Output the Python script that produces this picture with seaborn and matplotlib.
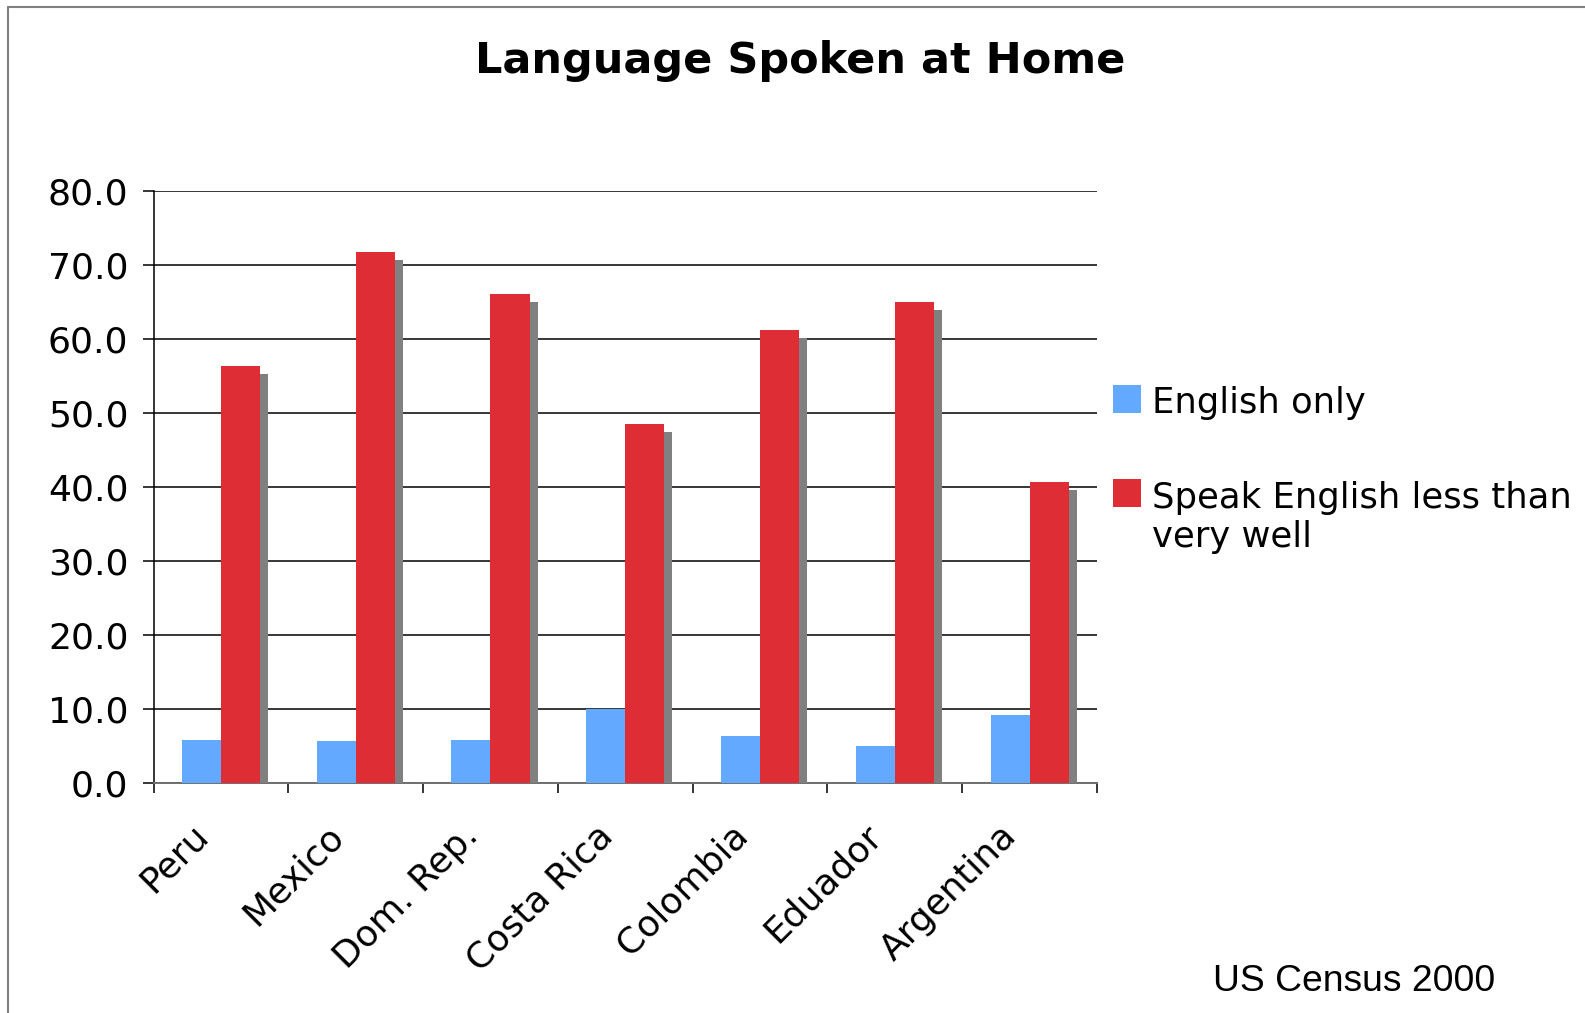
import numpy as np
import pandas as pd
import seaborn as sns
import matplotlib
matplotlib.use("Agg")
import matplotlib.pyplot as plt
import matplotlib.patheffects as pe
from matplotlib.lines import Line2D
from matplotlib.patches import Rectangle
from matplotlib.transforms import ScaledTranslation

# Share of Hispanic groups by language spoken at home (percent)
countries = ["Peru", "Mexico", "Dom. Rep.", "Costa Rica", "Colombia", "Eduador", "Argentina"]
series_names = ["English only", "Speak English less than\nvery well"]
english_only = [5.8, 5.7, 5.8, 9.9, 6.3, 5.0, 9.2]
less_than_very_well = [56.3, 71.7, 66.0, 48.5, 61.2, 65.0, 40.7]
y_ticks = [0, 10, 20, 30, 40, 50, 60, 70, 80]

BLUE = "#62A9FF"
RED = "#DE2D35"
SHADOW = "#808080"

df = pd.DataFrame({
    "country": countries * 2,
    "series": [series_names[0]] * len(countries) + [series_names[1]] * len(countries),
    "value": english_only + less_than_very_well,
})

sns.set_theme(style="white")
plt.rcParams["font.family"] = ["DejaVu Sans"]

W, H = 1585, 1013
fig = plt.figure(figsize=(W / 100, H / 100), dpi=100)
ax = fig.add_axes([153.5 / W, (H - 782.7) / H, 943.5 / W, 592.0 / H])

sns.barplot(data=df, x="country", y="value", hue="series", order=countries,
            hue_order=series_names, palette=[BLUE, RED], width=0.58, gap=0,
            saturation=1, linewidth=0, legend=False, ax=ax, zorder=3)

# drop shadow to the lower right of each bar
shadow = [pe.SimplePatchShadow(offset=(5.8, -5.8), shadow_rgbFace=SHADOW, alpha=1.0), pe.Normal()]
for cont in ax.containers:
    for bar in cont:
        bar.set_path_effects(shadow)

ax.set_ylim(0, 80)
ax.set_xlim(-0.5, len(countries) - 0.5)
ax.set_yticks(y_ticks)
ax.set_yticklabels([f"{v:.1f}" for v in y_ticks])
ax.yaxis.grid(True, color="black", linewidth=1.1)
ax.set_axisbelow(True)
ax.set_xlabel("")
ax.set_ylabel("")

for side in ["top", "right"]:
    ax.spines[side].set_visible(False)
ax.spines["left"].set_color("black")
ax.spines["left"].set_linewidth(1.1)
ax.spines["bottom"].set_color("#707070")
ax.spines["bottom"].set_linewidth(1.4)

ax.tick_params(axis="y", which="major", length=8, width=1.1, color="black",
               direction="out", left=True, pad=10, labelsize=26, labelcolor="black")
ax.set_xticks(np.arange(len(countries) + 1) - 0.5, minor=True)
ax.tick_params(axis="x", which="minor", length=7.5, width=1.1, color="black",
               direction="out", bottom=True)
ax.tick_params(axis="x", which="major", length=0, pad=14, labelsize=26,
               labelcolor="black")
ax.set_xticks(range(len(countries)))
ax.set_xticklabels(countries, rotation=45, ha="right", rotation_mode="anchor")
shift = ScaledTranslation(-30 / 100, -16 / 100, fig.dpi_scale_trans)
for lab in ax.get_xticklabels():
    lab.set_transform(lab.get_transform() + shift)

fig.text(800 / W, 1 - 61 / H, "Language Spoken at Home", ha="center", va="center",
         fontsize=31, fontweight="bold", color="black")

# legend entries
def px(x, y):
    return x / W, 1 - y / H

line_gap = 40
legend_rows = [(BLUE, series_names[0], 413), (RED, series_names[1], 507)]
for color, label, base in legend_rows:
    x0, y0 = px(1113, base)
    fig.add_artist(Rectangle((x0, y0), 28 / W, 28 / H, transform=fig.transFigure,
                             facecolor=color, edgecolor="none"))
    n_extra = label.count("\n")
    tx, ty = px(1152, base + n_extra * line_gap)
    fig.text(tx, ty, label, ha="left", va="baseline", fontsize=25.5,
             color="black", linespacing=1.17)

fig.text(1213 / W, 1 - 991 / H, "US Census 2000", ha="left", va="baseline",
         fontsize=26.8, family=["Liberation Sans", "DejaVu Sans"], color="black")

# outer frame (left and top edges)
fig.add_artist(Line2D([8 / W, 8 / W], [0, 1 - 7 / H], transform=fig.transFigure,
                      color="#808080", linewidth=1.5))
fig.add_artist(Line2D([8 / W, 1], [1 - 7 / H, 1 - 7 / H], transform=fig.transFigure,
                      color="#808080", linewidth=1.5))

fig.savefig("out.png", dpi=100, facecolor="white")
